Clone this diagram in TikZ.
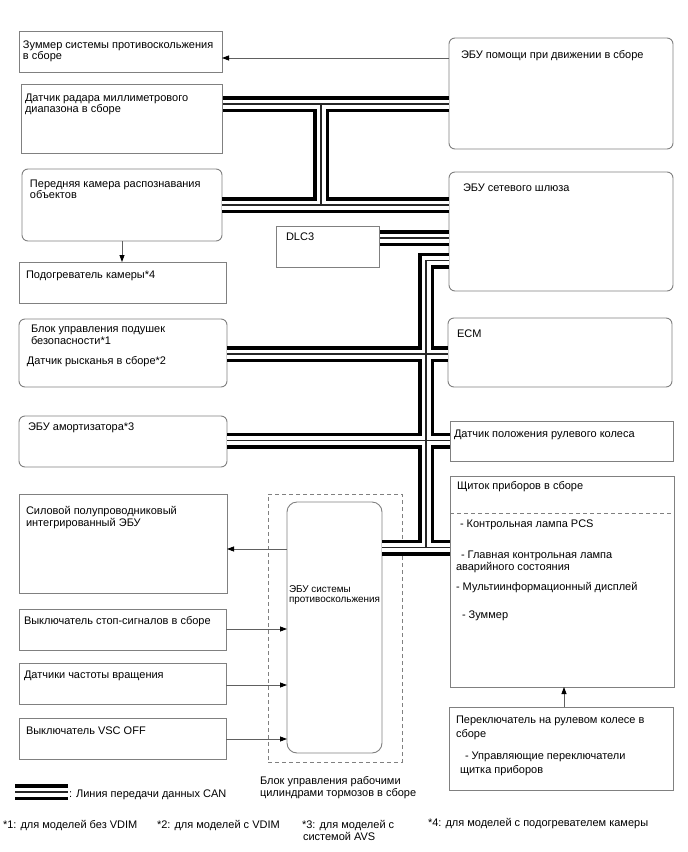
\documentclass[tikz,border=0pt]{standalone}
\usepackage{fontspec}
\setmainfont{Liberation Sans}
\usetikzlibrary{arrows.meta,fit}
\definecolor{bordergray}{HTML}{808080}
\definecolor{linegray}{HTML}{606060}
\begin{document}
\begin{tikzpicture}[x=1pt,y=-1pt,
  box/.style={draw=bordergray, line width=0.9pt, rectangle, inner sep=0pt, outer sep=0pt},
  rbox/.style={box, rounded corners=6pt},
  txt/.style={anchor=base west, inner sep=0pt, outer sep=0pt, font=\fontsize{11}{12}\selectfont},
  stxt/.style={txt, font=\fontsize{9.9}{11}\selectfont},
  arr/.style={draw=linegray, line width=0.8pt, -{Triangle[length=7pt,width=5pt,black]}},
  canbus/.style={preaction={draw=black, line width=16pt}, preaction={draw=white, line width=9pt}, draw=black!85, line width=1.2pt},
  dashbox/.style={draw=bordergray, line width=0.9pt, dash pattern=on 4pt off 3pt}
]
\useasboundingbox[fill=white] (0,0) rectangle (688,852);

% dashed brake actuator outline
\node[dashbox, rectangle, inner sep=0pt, outer sep=0pt, fit={(268,494) (402,762)}] (brk) {};

% box nodes
\node[box,  fit={(19,31) (222,72)}]   (zum) {};
\node[rbox, fit={(449,38) (673,149)}] (pom) {};
\node[box,  fit={(21,84) (222,153)}]  (rad) {};
\node[rbox, fit={(22,169) (222,241)}] (cam) {};
\node[rbox, fit={(449,172) (673,291)}] (gw) {};
\node[box,  fit={(276,226) (379,267)}] (dlc) {};
\node[box,  fit={(19,262) (226,303)}] (heat) {};
\node[rbox, fit={(19,319) (227,387)}] (air) {};
\node[rbox, fit={(19,416) (227,467)}] (amo) {};
\node[rbox, fit={(448,318) (672,387)}] (ecm) {};
\node[box,  fit={(450,421) (673,461)}] (steer) {};
\node[box,  fit={(450,476) (674,687)}] (clu) {};
\node[box,  fit={(449,707) (673,790)}] (sw) {};
\node[box,  fit={(19,494) (227,593)}] (pwr) {};
\node[box,  fit={(19,609) (226,650)}] (stop) {};
\node[box,  fit={(19,663) (226,704)}] (spd) {};
\node[box,  fit={(19,718) (226,759)}] (vsc) {};
\node[box, rounded corners=10pt, fit={(287,502) (382,753)}] (ecu) {};

% CAN bus network
\path[canbus]
  (rad.east |- 0,104) -- (pom.west |- 0,104)
  (cam.east |- 0,205) -- (gw.west |- 0,205)
  (321,104) -- (321,205)
  (dlc.east |- 0,238) -- (gw.west |- 0,238)
  (gw.west |- 0,260.5) -- (426,260.5) -- (426,547.5)
  (air.east |- 0,354) -- (ecm.west |- 0,354)
  (amo.east |- 0,440.5) -- (steer.west |- 0,440.5)
  (ecu.east |- 0,547.5) -- (clu.west |- 0,547.5);

% redraw borders touching the bus
\draw[draw=bordergray, line width=0.9pt] (rad.north east) -- (rad.south east);
\draw[draw=bordergray, line width=0.9pt] (dlc.north east) -- (dlc.south east);
\draw[draw=bordergray, line width=0.9pt] (steer.north west) -- (steer.south west);
\draw[draw=bordergray, line width=0.9pt] (clu.north west) -- (clu.south west);

% dashed divider in cluster
\draw[dashbox] (clu.west |- 0,513) -- (clu.east |- 0,513);

% arrows
\draw[arr] (pom.west |- 0,58) -- (zum.east |- 0,58);
\draw[arr] (cam.south -| 122,0) -- (heat.north -| 122,0);
\draw[arr] (ecu.west |- 0,549) -- (pwr.east |- 0,549);
\draw[arr] (stop.east |- 0,629) -- (ecu.west |- 0,629);
\draw[arr] (spd.east |- 0,685) -- (ecu.west |- 0,685);
\draw[arr] (vsc.east |- 0,739) -- (ecu.west |- 0,739);
\draw[arr] (sw.north -| 564,0) -- (clu.south -| 564,0);

% legend sample
\path[canbus] (15,792) -- (68,792);

% texts
\node[txt] (t1) at (23,48) {Зуммер системы противоскольжения};
\node[txt] (t2) at (23,59) {в сборе};
\node[txt] (t3) at (461,58) {ЭБУ помощи при движении в сборе};
\node[txt] (t4) at (25,101) {Датчик радара миллиметрового};
\node[txt] (t5) at (25,112) {диапазона в сборе};
\node[txt] (t6) at (30,187) {Передняя камера распознавания};
\node[txt] (t7) at (30,198) {объектов};
\node[txt] (t8) at (463,191) {ЭБУ сетевого шлюза};
\node[txt] (t9) at (286,240) {DLC3};
\node[txt] (t10) at (26,278) {Подогреватель камеры*4};
\node[txt] (t11) at (31,332) {Блок управления подушек};
\node[txt] (t12) at (31,344) {безопасности*1};
\node[txt] (t13) at (27,364) {Датчик рысканья в сборе*2};
\node[txt] (t14) at (28,430) {ЭБУ амортизатора*3};
\node[txt] (t15) at (457,337) {ECM};
\node[txt] (t16) at (454,437) {Датчик положения рулевого колеса};
\node[txt] (t17) at (457,489) {Щиток приборов в сборе};
\node[txt] (t18) at (460,527) {- Контрольная лампа PCS};
\node[txt] (t19) at (461,558) {- Главная контрольная лампа};
\node[txt] (t20) at (456,570) {аварийного состояния};
\node[txt] (t21) at (456,590) {- Мультиинформационный дисплей};
\node[txt] (t22) at (462,618) {- Зуммер};
\node[txt] (t23) at (26,514) {Силовой полупроводниковый};
\node[txt] (t24) at (26,526) {интегрированный ЭБУ};
\node[txt] (t25) at (24,624) {Выключатель стоп-сигналов в сборе};
\node[txt] (t26) at (24,678) {Датчики частоты вращения};
\node[txt] (t27) at (26,734) {Выключатель VSC OFF};
\node[stxt] (t28) at (289,592) {ЭБУ системы};
\node[stxt] (t29) at (289,602) {противоскольжения};
\node[txt] (t30) at (260,784) {Блок управления рабочими};
\node[txt] (t31) at (260,796) {цилиндрами тормозов в сборе};
\node[txt] (t32) at (456,723) {Переключатель на рулевом колесе в};
\node[txt] (t33) at (456,737) {сборе};
\node[txt] (t34) at (465,759) {- Управляющие переключатели};
\node[txt] (t35) at (460,773) {щитка приборов};
\node[txt] (t36) at (69,797) {: Линия передачи данных CAN};
\node[txt] (t37) at (3,828) {*1: для моделей без VDIM};
\node[txt] (t38) at (157,828) {*2: для моделей с VDIM};
\node[txt] (t39) at (302,828) {*3: для моделей с};
\node[txt] (t40) at (303,840) {системой AVS};
\node[txt] (t41) at (428,826) {*4: для моделей с подогревателем камеры};
\end{tikzpicture}
\end{document}
